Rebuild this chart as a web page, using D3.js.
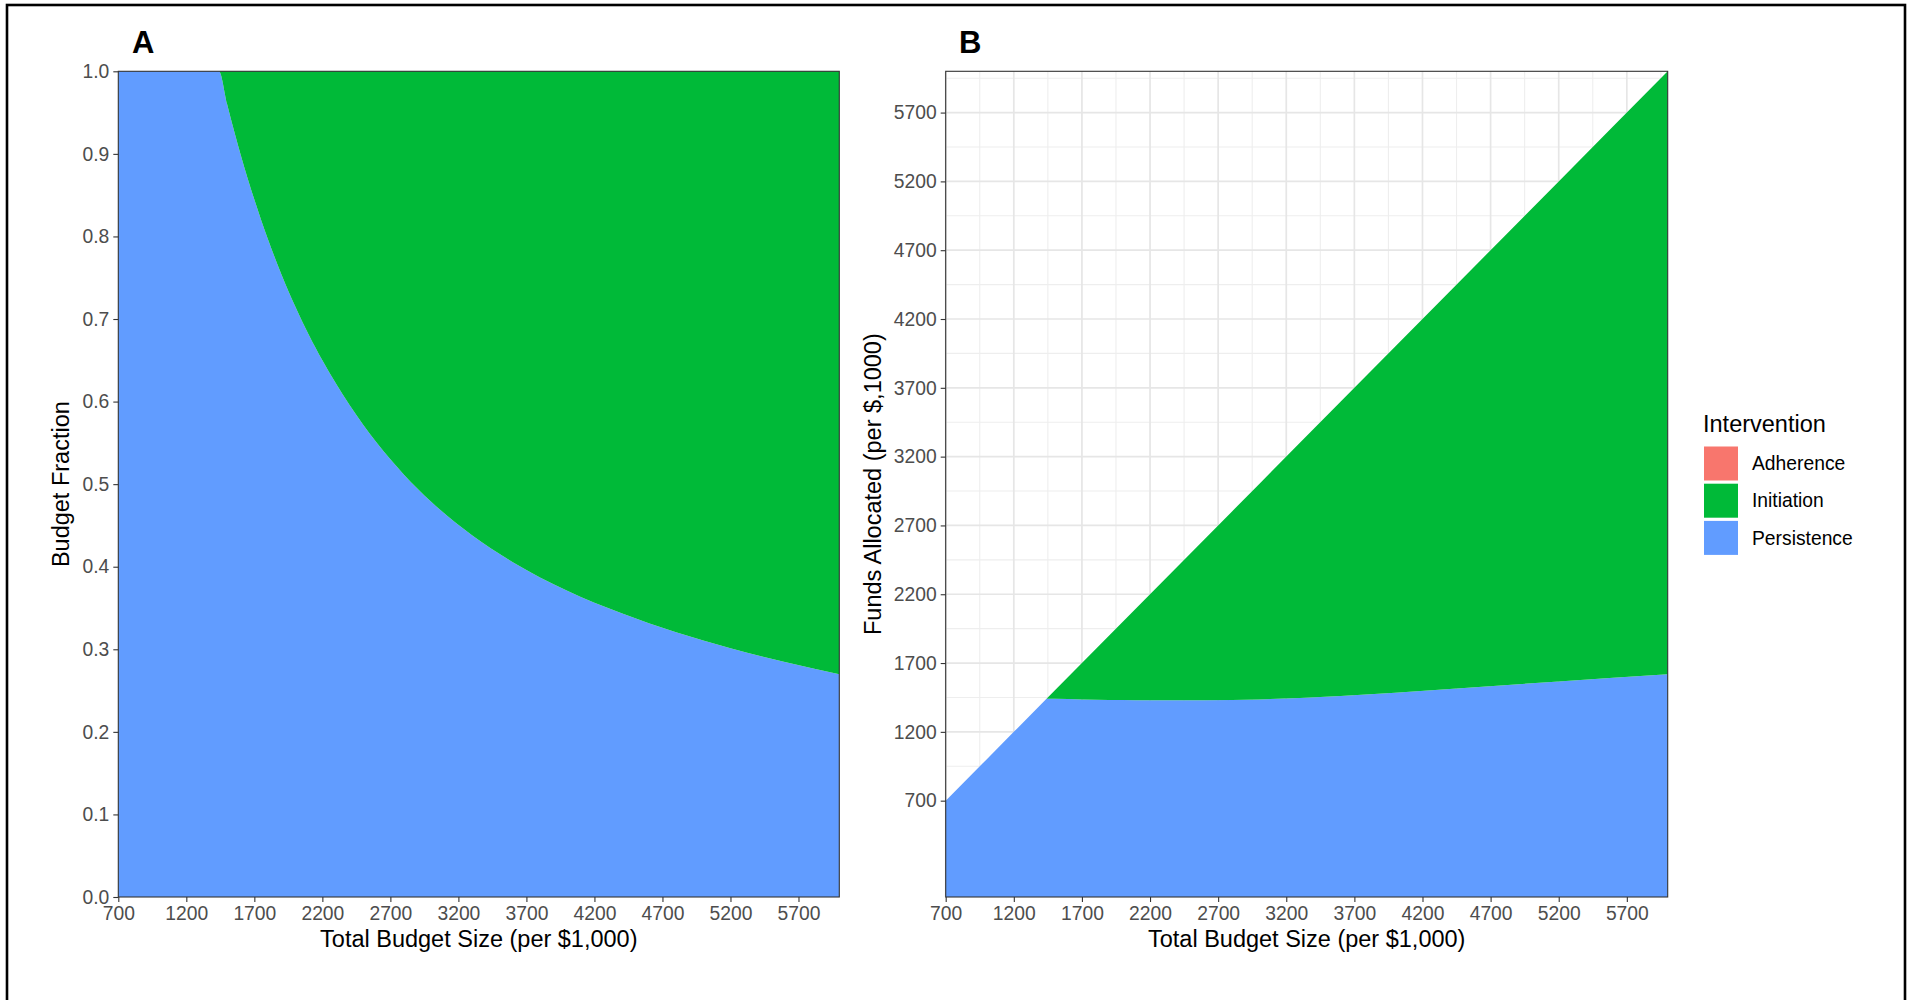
<!DOCTYPE html>
<html>
<head>
<meta charset="utf-8">
<script src="https://cdn.jsdelivr.net/npm/d3@7"></script>
<style>
  body { margin: 0; background: #fff; }
  svg { font-family: "Liberation Sans", Arial, Helvetica, sans-serif; }
</style>
</head>
<body>
<svg id="chart" width="1912" height="1000"></svg>
<script>
// total budget (per $1,000) and funds going to persistence
const budget = [700, 1000, 1200, 1440, 1500, 1600, 1700, 1800, 1900, 2000, 2100, 2200, 2400, 2600, 2800, 3000, 3300, 3600, 4000, 4400, 4800, 5200, 5600, 6000];
const persistence = [700, 1000, 1200, 1440, 1440, 1438, 1436, 1434, 1432, 1431, 1430, 1430, 1430, 1430, 1432, 1436, 1446, 1460, 1484, 1512, 1539, 1566, 1594, 1618];
const adherence = budget.map(() => 0);

const interventions = ["Adherence", "Initiation", "Persistence"];
const colors = ["#F8766D", "#00BA38", "#619CFF"];

const xTicks = [700, 1200, 1700, 2200, 2700, 3200, 3700, 4200, 4700, 5200, 5700];
const fracTicks = [0, 0.1, 0.2, 0.3, 0.4, 0.5, 0.6, 0.7, 0.8, 0.9, 1.0];
const fundTicks = [700, 1200, 1700, 2200, 2700, 3200, 3700, 4200, 4700, 5200, 5700];
const minorX = [950, 1450, 1950, 2450, 2950, 3450, 3950, 4450, 4950, 5450, 5950];
const minorY = [200, 450, 950, 1450, 1950, 2450, 2950, 3450, 3950, 4450, 4950, 5450, 5950];

const rows = budget.map((b, i) => ({
  budget: b,
  Adherence: adherence[i],
  Persistence: persistence[i],
  Initiation: b - persistence[i] - adherence[i]
}));

const svg = d3.select("#chart");
const tickColor = "#4D4D4D";
const plotTop = 71.3, plotBottom = 897;

// outer frame
svg.append("rect")
  .attr("x", 7).attr("y", 5).attr("width", 1898).attr("height", 1000)
  .attr("fill", "none").attr("stroke", "#000").attr("stroke-width", 2.6);

function styleAxis(g) {
  g.select(".domain").remove();
  g.selectAll(".tick line").attr("stroke", "#333").attr("stroke-width", 1.1);
  g.selectAll(".tick text").attr("fill", tickColor).attr("font-size", "19.3px");
}

function panel(opts) {
  const x = d3.scaleLinear().domain([700, 6000]).range([opts.left, opts.right]);
  const y = d3.scaleLinear().domain(opts.yDomain).range([plotBottom, plotTop]);
  const g = svg.append("g");

  if (opts.grid) {
    const grid = g.append("g");
    grid.selectAll(".mx").data(minorX).join("line")
      .attr("x1", d => x(d)).attr("x2", d => x(d)).attr("y1", plotTop).attr("y2", plotBottom)
      .attr("stroke", "#EEEEEE").attr("stroke-width", 1.1);
    grid.selectAll(".my").data(minorY).join("line")
      .attr("y1", d => y(d)).attr("y2", d => y(d)).attr("x1", opts.left).attr("x2", opts.right)
      .attr("stroke", "#EEEEEE").attr("stroke-width", 1.1);
    grid.selectAll(".gx").data(xTicks).join("line")
      .attr("x1", d => x(d)).attr("x2", d => x(d)).attr("y1", plotTop).attr("y2", plotBottom)
      .attr("stroke", "#E6E6E6").attr("stroke-width", 1.7);
    grid.selectAll(".gy").data(opts.yTicks).join("line")
      .attr("y1", d => y(d)).attr("y2", d => y(d)).attr("x1", opts.left).attr("x2", opts.right)
      .attr("stroke", "#E6E6E6").attr("stroke-width", 1.7);
  }

  const stack = d3.stack()
    .keys(["Persistence", "Initiation", "Adherence"])
    .offset(opts.fraction ? d3.stackOffsetExpand : d3.stackOffsetNone);
  const layers = stack(rows);

  // fractions follow a smooth hyperbola; absolute funds have a sharp corner
  const area = d3.area()
    .x(d => x(d.data.budget))
    .y0(d => y(d[0]))
    .y1(d => y(d[1]))
    .curve(opts.fraction ? d3.curveMonotoneX : d3.curveLinear);

  g.selectAll(".layer").data(layers).join("path")
    .attr("fill", d => colors[interventions.indexOf(d.key)])
    .attr("d", area);

  g.append("rect")
    .attr("x", opts.left).attr("y", plotTop)
    .attr("width", opts.right - opts.left).attr("height", plotBottom - plotTop)
    .attr("fill", "none").attr("stroke", "#333").attr("stroke-width", 1.1);

  g.append("g")
    .attr("transform", `translate(0,${plotBottom})`)
    .call(d3.axisBottom(x).tickValues(xTicks).tickSize(5).tickPadding(4).tickFormat(d3.format("d")))
    .call(styleAxis);

  g.append("g")
    .attr("transform", `translate(${opts.left},0)`)
    .call(d3.axisLeft(y).tickValues(opts.yTicks).tickSize(5).tickPadding(4).tickFormat(opts.yFormat))
    .call(styleAxis);

  g.append("text")
    .attr("x", (opts.left + opts.right) / 2).attr("y", 947)
    .attr("text-anchor", "middle").attr("font-size", "23.5px").attr("fill", "#000")
    .text("Total Budget Size (per $1,000)");

  g.append("text")
    .attr("transform", `translate(${opts.yTitleX},${(plotTop + plotBottom) / 2}) rotate(-90)`)
    .attr("text-anchor", "middle").attr("dy", "0.35em")
    .attr("font-size", "23.5px").attr("fill", "#000")
    .text(opts.yTitle);

  g.append("text")
    .attr("x", opts.tagX).attr("y", 53)
    .attr("font-size", "31px").attr("font-weight", "bold").attr("fill", "#000")
    .text(opts.tag);
}

panel({
  left: 118.3, right: 839.3, yDomain: [0, 1], yTicks: fracTicks,
  yFormat: d3.format(".1f"), fraction: true, grid: false,
  yTitle: "Budget Fraction", yTitleX: 61, tag: "A", tagX: 132
});

panel({
  left: 945.7, right: 1667.7, yDomain: [0, 6000], yTicks: fundTicks,
  yFormat: d3.format("d"), fraction: false, grid: true,
  yTitle: "Funds Allocated (per $,1000)", yTitleX: 873, tag: "B", tagX: 959
});

// legend
const leg = svg.append("g").attr("transform", "translate(1703,0)");
leg.append("text")
  .attr("x", 0).attr("y", 431.5)
  .attr("font-size", "23.5px").attr("fill", "#000")
  .text("Intervention");
const keys = leg.selectAll(".key").data(interventions).join("g")
  .attr("transform", (d, i) => `translate(0,${446.5 + i * 37.2})`);
keys.append("rect")
  .attr("x", 1).attr("y", 0).attr("width", 34).attr("height", 34)
  .attr("fill", (d, i) => colors[i]);
keys.append("text")
  .attr("x", 49).attr("y", 17).attr("dy", "0.35em")
  .attr("font-size", "19.3px").attr("fill", "#000")
  .text(d => d);
</script>
</body>
</html>
